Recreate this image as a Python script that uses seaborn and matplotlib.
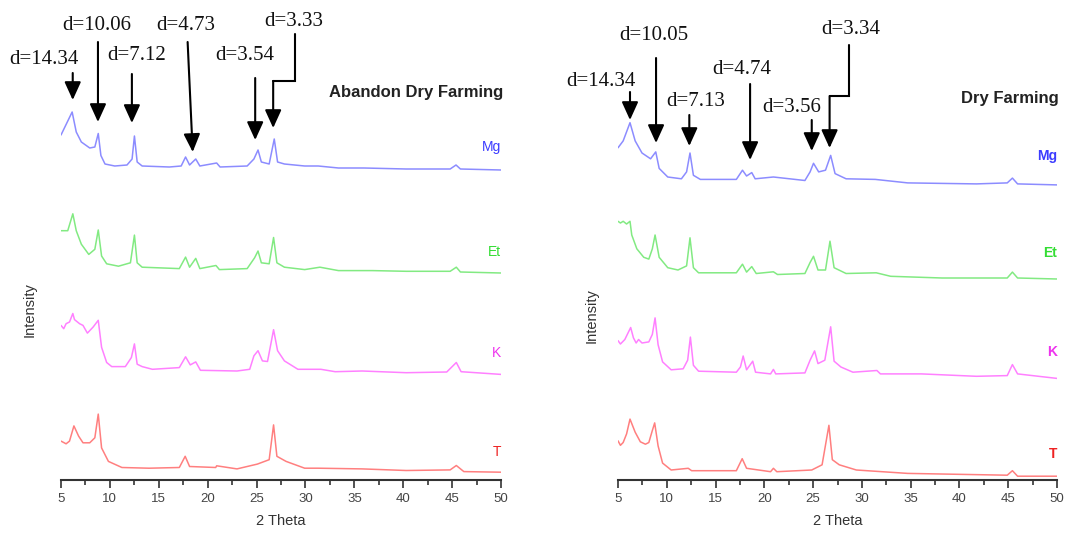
"""XRD patterns of clay fractions: abandoned dry farming vs dry farming soils."""

import matplotlib
matplotlib.use("Agg")
import matplotlib.pyplot as plt
import seaborn as sns

# ---- data (2 theta, stacked intensity) ----
adf_mg_theta = [5.0, 6.14, 6.56, 7.08, 7.94, 8.46, 8.81, 9.08, 9.5, 10.5, 11.75, 12.27, 12.51, 12.79,
                13.3, 16.08, 17.29, 17.74, 18.15, 18.78, 19.2, 20.92, 21.27, 24.04, 24.73, 25.15,
                25.49, 26.29, 26.81, 27.15, 27.85, 29.92, 31.31, 33.38, 35.98, 40.3, 44.8, 45.4,
                45.85, 50.0]
adf_mg_int = [345, 368, 348, 338, 332, 333, 346.5, 324.5, 316, 314, 315, 321, 344, 318,
              314, 313, 314, 323, 315, 321, 314, 317, 313, 314, 321, 330,
              318, 316, 341, 318, 316, 314, 314, 312, 312, 311, 311, 315,
              311, 310]

adf_et_theta = [5.0, 5.69, 6.21, 6.56, 7.08, 7.84, 8.46, 8.81, 9.15, 9.67, 10.88, 12.1, 12.51,
                12.79, 13.3, 17.1, 17.74, 18.15, 18.78, 19.2, 20.85, 21.2, 24.04, 24.8, 25.15,
                25.49, 26.29, 26.74, 27.08, 27.85, 29.92, 31.48, 33.38, 36.85, 40.3, 44.8, 45.43,
                45.85, 50.0]
adf_et_int = [249.3, 249.3, 266.2, 249.3, 235.8, 225.6, 230.7, 250, 224, 216.2, 213.8, 217.2, 244.9,
              217.2, 212.8, 211.4, 222.9, 212.8, 221.6, 211.4, 214.5, 210.4, 211.4, 222.2, 229,
              217.2, 216.2, 242.5, 217.2, 212.8, 210.4, 212.8, 209.4, 209.4, 208.7, 208.7, 212.8,
              208, 207]

adf_k_theta = [5.0, 5.28, 5.52, 5.87, 6.21, 6.38, 6.9, 7.25, 7.7, 8.29, 8.81, 9.15, 9.67, 10.19,
               11.58, 12.2, 12.51, 12.79, 13.3, 14.35, 17.1, 17.74, 18.22, 18.78, 19.26, 23.0,
               24.3, 24.73, 25.15, 25.6, 26.12, 26.74, 27.15, 27.85, 29.23, 31.58, 33.04, 35.8,
               40.3, 44.45, 45.43, 45.92, 50.0]
adf_k_int = [154.6, 151.3, 156.3, 158, 166.5, 160.4, 156.3, 154.6, 146.9, 153, 159.7, 132.7, 117.5, 113.4,
             113.4, 122.5, 136.1, 115.8, 113.4, 110.7, 112.4, 123.2, 115.1, 118.1, 109.7, 109,
             110.7, 124.2, 129.3, 119.1, 118.5, 150.3, 129.3, 119.1, 110.7, 110.7, 108.3, 109,
             107.3, 108, 117.5, 108.3, 105.6]

adf_t_theta = [5.0, 5.52, 5.87, 6.32, 6.8, 7.25, 7.94, 8.46, 8.81, 9.15, 9.85, 11.23, 14.0, 17.1,
               17.7, 18.15, 20.82, 20.92, 23.0, 25.08, 26.29, 26.74, 27.08, 28.02, 29.92, 31.31,
               35.8, 40.3, 44.8, 45.43, 46.2, 50.0]
adf_t_int = [38.9, 36.2, 38.9, 54.1, 43.9, 37.2, 37.2, 42.2, 65.9, 32.1, 18.6, 12.5, 11.8, 12.5,
             23.7, 13.5, 12.5, 14.2, 11.1, 15.9, 20.3, 55.1, 23.7, 18.6, 11.8, 11.8,
             11.1, 9.5, 10.1, 14.5, 8.4, 7.8]

df_mg_theta = [5.0, 5.53, 6.23, 6.76, 7.46, 8.34, 8.87, 9.22, 10.1, 11.5, 12.03, 12.38, 12.73, 13.44,
               17.13, 17.76, 18.18, 18.71, 19.06, 20.93, 24.16, 24.69, 25.04, 25.57, 26.27, 26.8,
               27.25, 28.38, 31.37, 34.7, 41.74, 44.9, 45.43, 45.96, 50.0]
df_mg_int = [332.2, 339.1, 357.3, 339.1, 327, 321.2, 328.1, 311.6, 303, 301.2, 308.1, 327, 304.7, 300.6,
             300.6, 309.8, 304, 307.4, 301.2, 303, 299.5, 308.1, 316.7, 308.1, 309.8, 324.6,
             306.4, 301.2, 300.6, 297.1, 296.1, 297.1, 301.9, 296.1, 295.1]

df_et_theta = [5.0, 5.25, 5.53, 5.88, 6.23, 6.41, 6.93, 7.64, 8.16, 8.52, 8.8, 9.22, 10.1, 11.15,
               12.03, 12.38, 12.73, 13.26, 17.13, 17.76, 18.18, 18.71, 19.17, 20.93, 21.35, 24.16,
               24.69, 25.04, 25.5, 26.27, 26.73, 27.15, 28.38, 31.47, 32.95, 38.22, 44.9, 45.43,
               45.96, 50.0]
df_et_int = [258.7, 257, 258.7, 256, 258.7, 245, 231.2, 222.7, 220.9, 231.2, 245, 222.7, 212.3, 210,
             214.1, 242.2, 212.3, 207.2, 207.2, 215.8, 207.9, 213.4, 206.5, 208.2, 205.5, 206.5,
             217.5, 223.7, 210, 210, 238.8, 212.3, 206.5, 207.2, 203.7, 202, 202, 207.9,
             202, 201]

df_k_theta = [5.0, 5.25, 5.7, 6.3, 6.58, 6.86, 7.11, 7.46, 8.16, 8.52, 8.8, 9.11, 9.57, 10.45,
              11.68, 12.14, 12.42, 12.73, 13.26, 17.13, 17.55, 17.83, 18.18, 18.81, 19.1, 20.64,
              20.93, 21.17, 24.16, 24.69, 25.15, 25.5, 26.2, 26.8, 27.15, 27.85, 29.08, 31.54,
              31.9, 36.1, 41.74, 44.9, 45.43, 45.96, 50.0]
df_k_int = [139.4, 136, 140.5, 152.5, 142.2, 137, 140.5, 137, 138.1, 145.6, 162.1, 135.3, 118.1, 110.2,
            111.2, 119.8, 142.9, 114.7, 108.8, 107.8, 113, 124, 110.2, 118.8, 107.8, 106.1,
            110.6, 106.1, 107.1, 119.8, 129.1, 116.4, 119.8, 153.2, 118.8, 113, 107.8, 109.5,
            106.1, 106.1, 103.7, 104.4, 115.4, 106.1, 101.6]

df_t_theta = [5.0, 5.25, 5.53, 5.88, 6.23, 6.76, 7.29, 7.81, 8.16, 8.52, 8.76, 9.11, 9.57, 10.45,
              12.2, 12.55, 17.13, 17.73, 18.18, 20.64, 20.93, 21.28, 24.86, 25.92, 26.62, 26.97,
              27.68, 29.43, 34.7, 44.9, 45.43, 45.96, 50.0]
df_t_int = [39.2, 34.7, 37.5, 46.1, 60.9, 47.8, 38.2, 35.8, 37.5, 49.5, 57.1, 34.1, 16.9, 10,
            11.7, 9.3, 9.3, 21.3, 11.7, 8.3, 11.7, 8.3, 10, 15.2, 54.7, 20.3,
            15.2, 10, 6.6, 4.8, 9.3, 3.8, 3.8]

samples = ["Mg", "Et", "K", "T"]

# d-spacing callouts: label, text position, arrow path (last point = arrow tip)
adf_peaks = ["d=14.34", "d=10.06", "d=7.12", "d=4.73", "d=3.54", "d=3.33"]
adf_text_xy = [(3.3, 421), (8.7, 455), (12.7, 424), (17.8, 455), (23.8, 424), (28.8, 458)]
adf_paths = [[(6.2, 407), (6.2, 380)],
             [(8.78, 438), (8.78, 358)],
             [(12.25, 406), (12.25, 357)],
             [(17.95, 438), (18.47, 328)],
             [(24.86, 402), (24.86, 340)],
             [(28.91, 446), (28.91, 399), (26.7, 399), (26.7, 352)]]

df_peaks = ["d=14.34", "d=10.05", "d=7.13", "d=4.74", "d=3.56", "d=3.34"]
df_text_xy = [(3.3, 398), (8.7, 445), (13.0, 378), (17.7, 411), (22.8, 372), (28.9, 450)]
df_paths = [[(6.23, 388), (6.23, 360)],
            [(8.9, 422), (8.9, 337)],
            [(12.31, 365), (12.31, 334)],
            [(18.54, 396), (18.54, 320)],
            [(24.86, 360), (24.86, 329)],
            [(28.73, 435), (28.73, 384), (26.69, 384), (26.69, 332)]]

line_colors = {"Mg": "#8c8cff", "Et": "#82ea82", "K": "#ff80ff", "T": "#ff7f7f"}
label_colors = {"Mg": "#3c3cff", "Et": "#33dd33", "K": "#ee33ee", "T": "#ee2222"}
adf_label_y = [333, 228, 127, 28]
df_label_y = [324, 227, 128, 26]

sns.set_style("ticks")
plt.rcParams["font.family"] = ["Liberation Sans", "DejaVu Sans"]
plt.rcParams["axes.edgecolor"] = "#333333"


def draw_panel(ax, traces, title, peaks, text_xy, paths, label_y, bold_labels):
    for name, (theta, inten) in zip(samples, traces):
        sns.lineplot(x=theta, y=inten, ax=ax, color=line_colors[name], lw=1.1,
                     estimator=None, sort=False)
    for name, ly in zip(samples, label_y):
        ax.text(50, ly, name, color=label_colors[name], fontsize=10, ha="right", va="center",
                fontweight="bold" if bold_labels else "normal")

    ax.text(50.2, 382 if bold_labels else 387, title, fontsize=12, fontweight="bold",
            ha="right", va="center", color="#222222")

    for label, (tx, ty), path in zip(peaks, text_xy, paths):
        ax.text(tx, ty, label, fontsize=15, family="Liberation Serif", ha="center", va="center",
                color="#111111", clip_on=False)
        if len(path) > 2:
            xs = [p[0] for p in path[:-1]]
            ys = [p[1] for p in path[:-1]]
            ax.plot(xs, ys, color="black", lw=1.5, solid_joinstyle="miter")
        ax.annotate("", xy=path[-1], xytext=path[-2], annotation_clip=False,
                    arrowprops=dict(arrowstyle="-|>,head_length=0.55,head_width=0.25",
                                    color="black", lw=1.5, mutation_scale=20,
                                    shrinkA=0, shrinkB=0))

    ax.set_xlim(5, 50)
    ax.set_ylim(0, 480)
    ax.set_yticks([])
    ax.set_xticks(range(5, 51, 5))
    ax.set_xticks([x + 2.5 for x in range(5, 50, 5)], minor=True)
    ax.tick_params(axis="x", which="major", length=6, width=1.2, labelsize=9.5,
                   labelcolor="#444444", color="#333333", pad=3)
    ax.tick_params(axis="x", which="minor", length=3.5, width=1.2, color="#333333")
    ax.set_xlabel("2 Theta", fontsize=10.5, color="#333333", labelpad=7)
    ax.set_ylabel("")
    sns.despine(ax=ax, left=True)
    ax.spines["bottom"].set_linewidth(1.5)


fig = plt.figure(figsize=(10.69, 5.34), dpi=100)
ax_l = fig.add_axes([61 / 1069, 54 / 534, 440 / 1069, 480 / 534])
ax_r = fig.add_axes([618 / 1069, 54 / 534, 439 / 1069, 480 / 534])

draw_panel(ax_l,
           [(adf_mg_theta, adf_mg_int), (adf_et_theta, adf_et_int),
            (adf_k_theta, adf_k_int), (adf_t_theta, adf_t_int)],
           "Abandon Dry Farming", adf_peaks, adf_text_xy, adf_paths, adf_label_y, False)
draw_panel(ax_r,
           [(df_mg_theta, df_mg_int), (df_et_theta, df_et_int),
            (df_k_theta, df_k_int), (df_t_theta, df_t_int)],
           "Dry Farming", df_peaks, df_text_xy, df_paths, df_label_y, True)

fig.text(30 / 1069, 1 - 310 / 534, "Intensity", rotation=90, fontsize=10.5,
         color="#333333", ha="center", va="center")
fig.text(592 / 1069, 1 - 316 / 534, "Intensity", rotation=90, fontsize=10.5,
         color="#333333", ha="center", va="center")

fig.savefig("out.png", dpi=100)
